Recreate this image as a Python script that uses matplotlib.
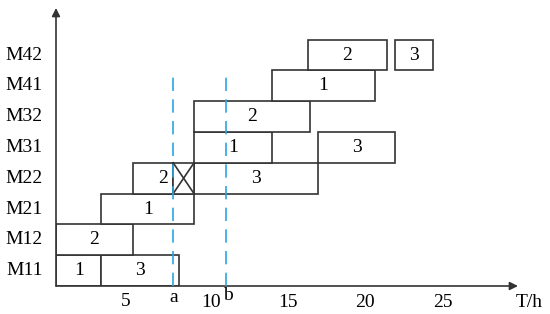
import matplotlib
matplotlib.use('Agg')
import matplotlib.pyplot as plt
from matplotlib.patches import Rectangle

plt.rcParams['font.family'] = ['Liberation Serif', 'DejaVu Serif']

# machines from bottom to top
machines = ['M11', 'M12', 'M21', 'M22', 'M31', 'M32', 'M41', 'M42']
# (machine, start, end, label)
tasks = [
    ('M11', 0.0, 2.95, '1'), ('M11', 2.95, 7.98, '3'),
    ('M12', 0.0, 4.97, '2'),
    ('M21', 2.95, 8.95, '1'),
    ('M22', 4.97, 7.6, '2'), ('M22', 8.95, 17.0, '3'),
    ('M31', 8.95, 14.0, '1'), ('M31', 17.0, 22.0, '3'),
    ('M32', 8.95, 16.45, '2'),
    ('M41', 14.0, 20.7, '1'),
    ('M42', 16.35, 21.45, '2'), ('M42', 22.0, 24.45, '3'),
]
# blocked slot on M22
blocked = ('M22', 7.6, 8.95)
t_a = 7.6
t_b = 11.0
tick_vals = ['5', '10', '15', '20', '25']
tick_pos = [4.55, 10.05, 15.05, 20.05, 25.1]

fig = plt.figure(figsize=(5.5, 3.14), dpi=100)
ax = fig.add_axes([56/550, 28/314, 462/550, 278/314])
ax.set_xlim(0, 462/15.42)
ax.set_ylim(0, 278/30.8)
ax.axis('off')

ec = '#333333'
for m, s, e, lab in tasks:
    r = machines.index(m)
    ax.add_patch(Rectangle((s, r), e - s, 1, facecolor='white', edgecolor=ec, lw=1.2, zorder=2))
    if m == 'M22' and lab == '2':
        ax.text(e - 0.35, r + 0.5, lab, ha='right', va='center', fontsize=14, zorder=3)
    else:
        ax.text((s + e) / 2, r + 0.5, lab, ha='center', va='center', fontsize=14, zorder=3)

m, s, e = blocked
r = machines.index(m)
ax.add_patch(Rectangle((s, r), e - s, 1, facecolor='white', edgecolor=ec, lw=1.2, zorder=2))
ax.plot([s, e], [r, r + 1], color=ec, lw=1.2, zorder=3)
ax.plot([s, e], [r + 1, r], color=ec, lw=1.2, zorder=3)

for t in (t_a, t_b):
    ax.plot([t, t], [0, 6.9], color='#2aa6e0', lw=1.2, ls=(0, (8, 5)), zorder=4)

# axes with arrows
arrow = dict(arrowstyle='-|>', color='#333333', lw=1.2, mutation_scale=12, shrinkA=0, shrinkB=0)
ax.annotate('', xy=(1, 0), xytext=(0, 0), xycoords='axes fraction', arrowprops=arrow)
ax.annotate('', xy=(0, 1), xytext=(0, 0), xycoords='axes fraction', arrowprops=arrow)

for i, m in enumerate(machines):
    ax.text(-0.85, i + 0.5, m, ha='right', va='center', fontsize=14)

for p, lab in zip(tick_pos, tick_vals):
    ax.text(p, -0.5 if lab == '5' else -0.52, lab, ha='center', va='center', fontsize=14)
ax.text(t_a + 0.05, -0.36, 'a', ha='center', va='center', fontsize=14)
ax.text(t_b + 0.15, -0.32, 'b', ha='center', va='center', fontsize=14)
ax.text(30.7, -0.52, 'T/h', ha='center', va='center', fontsize=14, clip_on=False)

fig.savefig('out.png', dpi=100)
